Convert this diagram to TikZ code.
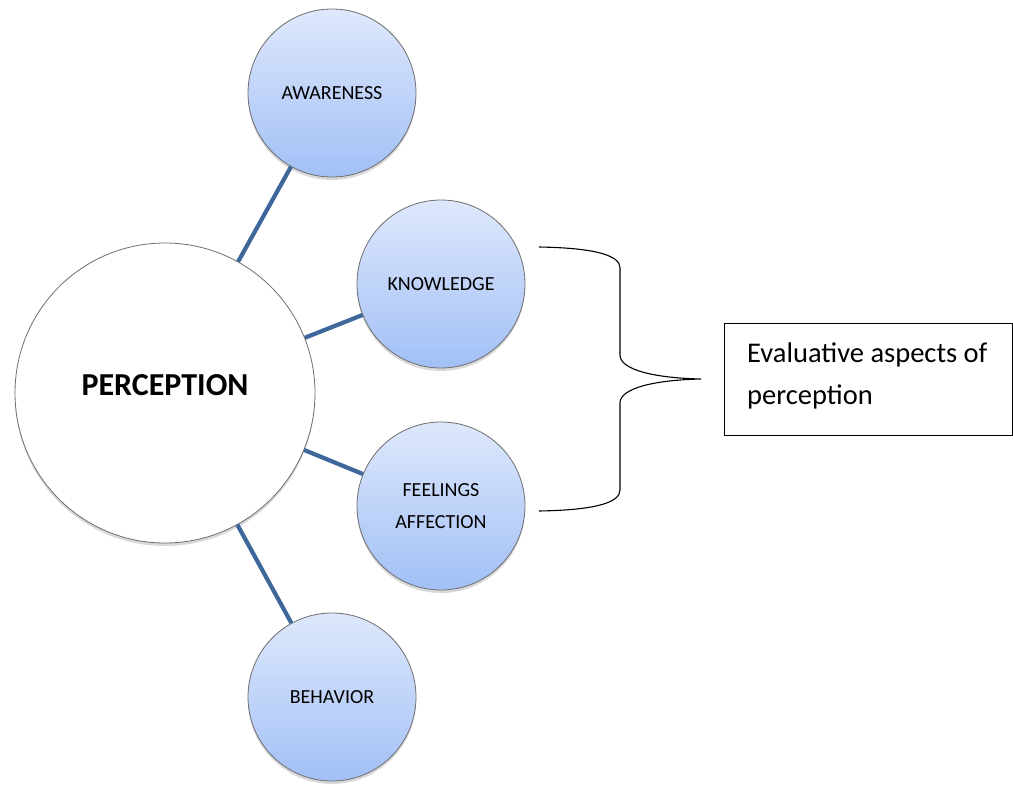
\documentclass[tikz,border=0pt]{standalone}
\usepackage{fontspec}
\setmainfont{Carlito}
\usetikzlibrary{shadows}
\definecolor{linec}{HTML}{3E679B}
\definecolor{ctop}{HTML}{DEE8FC}
\definecolor{cbot}{HTML}{A2C0F6}
\definecolor{cborder}{HTML}{6E6E6E}
\tikzset{
  bigcirc/.style={circle, draw=cborder, line width=0.8pt, fill=white, minimum size=300pt, inner sep=0pt,
    drop shadow={shadow xshift=0pt, shadow yshift=-3pt, opacity=0.25, fill=black!60}},
  smallcirc/.style={circle, draw=cborder, line width=0.8pt, top color=ctop, bottom color=cbot,
    minimum size=168pt, inner sep=0pt, align=center, font=\fontsize{20}{32}\selectfont,
    drop shadow={shadow xshift=0pt, shadow yshift=-3pt, opacity=0.25, fill=black!60}},
  conn/.style={line width=4.2pt, draw=linec},
  bracel/.style={line width=1.1pt, draw=black},
  evalbox/.style={draw=black, line width=1.1pt, minimum width=288pt, minimum height=112pt,
    inner sep=0pt, anchor=north west}
}
\begin{document}
\begin{tikzpicture}[x=1pt,y=-1pt]
\useasboundingbox (0,0) rectangle (1013,785);
\node[bigcirc, label={[yshift=8pt, font=\fontsize{32}{38}\selectfont\bfseries]center:PERCEPTION}] (main) at (165,393) {};
\node[smallcirc] (aw) at (332,93) {AWARENESS};
\node[smallcirc] (kn) at (441,284) {KNOWLEDGE};
\node[smallcirc] (fe) at (441,506) {FEELINGS\\AFFECTION};
\node[smallcirc] (be) at (332,697) {BEHAVIOR};
\draw[conn] (main) -- (aw);
\draw[conn] (main) -- (kn);
\draw[conn] (main) -- (fe);
\draw[conn] (main) -- (be);
\coordinate (bt) at (539,247);
\coordinate (bb) at (539,511);
\coordinate (tip) at (701,379);
\draw[bracel] (bt) .. controls (598,248) and (620,256) .. (620,268) -- (620,355)
  .. controls (620,370) and (655,378) .. (tip)
  .. controls (655,380) and (620,388) .. (620,403) -- (620,490)
  .. controls (620,502) and (598,510) .. (bb);
\node[evalbox, label={[anchor=west, xshift=23pt, yshift=4pt, align=left, inner sep=0pt, font=\fontsize{28.5}{42}\selectfont]west:{Evaluative aspects of\\perception}}] (ev) at (724,323) {};
\end{tikzpicture}
\end{document}
